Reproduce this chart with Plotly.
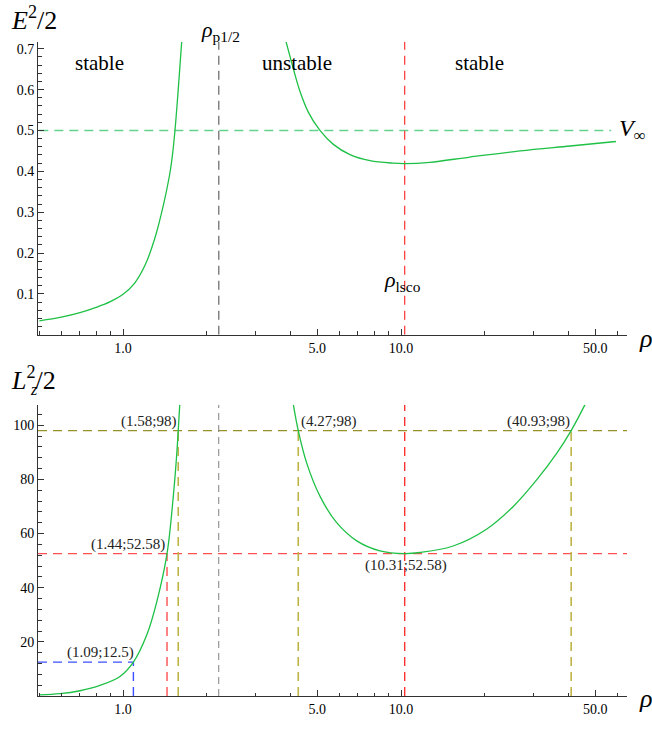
import math
import plotly.graph_objects as go

# ---------------- data ----------------
# top panel: E^2/2 vs rho (inner and outer branch)
rho_E_in = [0.5, 0.6, 0.7, 0.8, 0.9, 1.0, 1.1, 1.2, 1.3, 1.4, 1.468, 1.5, 1.538, 1.58, 1.626]
E_in = [0.034, 0.043, 0.054, 0.067, 0.081, 0.099, 0.126, 0.17, 0.235, 0.32, 0.388, 0.43, 0.50, 0.60, 0.717]
rho_E_out = [3.86, 4.10, 4.33, 4.64, 5.11, 5.71, 6.55, 7.74, 9.38, 10.31, 12.7, 17.7, 26.8, 40.6, 59.3]
E_out = [0.717, 0.651, 0.596, 0.545, 0.50, 0.466, 0.441, 0.426, 0.420, 0.419, 0.422, 0.435, 0.450, 0.462, 0.473]

# bottom panel: Lz^2/2 vs rho
rho_L_in = [0.5, 0.593, 0.700, 0.826, 0.975, 1.09, 1.217, 1.322, 1.44, 1.517, 1.56, 1.58, 1.60]
L_in = [0.4, 0.84, 1.94, 3.9, 7.2, 12.5, 22.5, 34.7, 52.58, 73.8, 89, 98, 107.6]
rho_L_out = [4.10, 4.27, 4.58, 5.11, 5.87, 6.93, 8.4, 10.31, 11.7, 15.4, 20.3, 25.4, 30.8, 36.3, 40.93, 45.9]
L_out = [107.6, 98, 86, 73.8, 64, 57.3, 53.6, 52.58, 53.0, 55.4, 61.6, 70.1, 79.9, 89.6, 98, 107.6]

# reference values
rho_p12 = 2.21
rho_lsco = 10.31
V_inf = 0.5
V_inf_rho = [0.5, 57.0]
L_min = 52.58
L_98 = 98
rho_98 = [1.58, 4.27, 40.93]
rho_in_min = 1.44
pt_blue = (1.09, 12.5)

x_ticks = [1.0, 5.0, 10.0, 50.0]
x_ticktext = ["1.0", "5.0", "10.0", "50.0"]
x_minor = [0.5, 0.6, 0.7, 0.8, 0.9, 2, 3, 4, 6, 7, 8, 9, 20, 30, 40, 60]
E_ticks = [0.1, 0.2, 0.3, 0.4, 0.5, 0.6, 0.7]
L_ticks = [20, 40, 60, 80, 100]

X_MIN, X_MAX = 0.4946, 65.0
E_MAX = 0.7165
L_MAX = 107.6

# ---------------- styles ----------------
GREEN = "rgb(30,192,70)"
GREEN_D = "rgb(100,210,140)"
GRAY = "rgb(130,130,130)"
RED = "rgb(255,50,50)"
RED_H = "rgb(255,80,80)"
OLIVE = "rgb(150,145,40)"
OLIVE_V = "rgb(190,180,70)"
BLUE = "rgb(60,80,255)"
DASH = "9px,6px"
SERIF = "Liberation Serif"
MATH = "Liberation Serif"

fig = go.Figure()


def line(xs, ys, color, width, dash, ax):
    fig.add_trace(go.Scatter(x=xs, y=ys, mode="lines", xaxis="x" if ax == 1 else "x2",
                             yaxis="y" if ax == 1 else "y2",
                             line=dict(color=color, width=width, dash=dash),
                             hoverinfo="skip", showlegend=False))


def curve(xs, ys, ax):
    fig.add_trace(go.Scatter(x=xs, y=ys, mode="lines", xaxis="x" if ax == 1 else "x2",
                             yaxis="y" if ax == 1 else "y2",
                             line=dict(color=GREEN, width=1.3, shape="spline", smoothing=1.0),
                             hoverinfo="skip", showlegend=False))


# ----- top panel -----
line(V_inf_rho, [V_inf, V_inf], GREEN_D, 1.6, DASH, 1)
line([rho_p12, rho_p12], [0, E_MAX], GRAY, 1.5, DASH, 1)
line([rho_lsco, rho_lsco], [0, E_MAX], RED, 1.2, DASH, 1)
curve(rho_E_in, E_in, 1)
curve(rho_E_out, E_out, 1)

# ----- bottom panel -----
line([X_MIN, X_MAX], [L_98, L_98], OLIVE, 1.2, DASH, 2)
line([X_MIN, X_MAX], [L_min, L_min], RED_H, 1.2, DASH, 2)
line([X_MIN, pt_blue[0]], [pt_blue[1], pt_blue[1]], BLUE, 1.4, DASH, 2)
line([pt_blue[0], pt_blue[0]], [0, pt_blue[1]], BLUE, 1.4, DASH, 2)
line([rho_in_min, rho_in_min], [0, L_min], RED, 1.2, DASH, 2)
for r in rho_98:
    line([r, r], [0, L_98], OLIVE_V, 1.6, DASH, 2)
line([rho_p12, rho_p12], [0, L_MAX], GRAY, 1.0, "7px,5px", 2)
line([rho_lsco, rho_lsco], [0, L_MAX], RED, 1.4, DASH, 2)
curve(rho_L_in, L_in, 2)
curve(rho_L_out, L_out, 2)

# ---------------- axes ----------------
xr = [math.log10(X_MIN), math.log10(X_MAX)]
common_x = dict(type="log", range=xr, showline=True, linecolor="#333", linewidth=1,
                ticks="inside", ticklen=6, tickcolor="#333", tickvals=x_ticks, ticktext=x_ticktext,
                tickfont=dict(family=SERIF, size=14, color="black"), showgrid=False, zeroline=False,
                minor=dict(tickvals=x_minor, ticks="inside", ticklen=3.5, tickcolor="#333", showgrid=False))
common_y = dict(showline=True, linecolor="#333", linewidth=1, ticks="inside", ticklen=6, tickcolor="#333",
                tickfont=dict(family=SERIF, size=14, color="black"), showgrid=False, zeroline=False)

fig.update_layout(
    width=652, height=729,
    margin=dict(l=38, r=25, t=42, b=27),
    paper_bgcolor="white", plot_bgcolor="white",
    showlegend=False,
    xaxis=dict(common_x, anchor="y"),
    yaxis=dict(common_y, domain=[0.5523, 1.0], range=[0, E_MAX], anchor="x",
               tickvals=E_ticks, ticktext=[f"{v:.1f}" for v in E_ticks],
               minor=dict(dtick=0.02, tick0=0, ticks="inside", ticklen=3.5, tickcolor="#333", showgrid=False)),
    xaxis2=dict(common_x, anchor="y2"),
    yaxis2=dict(common_y, domain=[0.0, 0.4455], range=[0, L_MAX], anchor="x2",
                tickvals=L_ticks, ticktext=[str(v) for v in L_ticks],
                minor=dict(dtick=4, tick0=0, ticks="inside", ticklen=3.5, tickcolor="#333", showgrid=False)),
)

ann = []
lg = math.log10
# region labels
for txt, xv in [("stable", 0.82), ("unstable", 4.23), ("stable", 19.2)]:
    ann.append(dict(x=lg(xv), y=0.665, xref="x", yref="y", text=txt, showarrow=False,
                    font=dict(family=SERIF, size=21, color="black")))
ann.append(dict(x=0.351, y=1.042, xref="x", yref="paper", text="<i>ρ</i><sub>p1/2</sub>", showarrow=False,
                font=dict(family=MATH, size=22, color="black")))
ann.append(dict(x=1.0036, y=0.132, xref="x", yref="y", text="<i>ρ</i><sub>lsco</sub>", showarrow=False,
                font=dict(family=MATH, size=22, color="black")))
ann.append(dict(x=1.777, y=V_inf, xref="x", yref="y", text="<i>V</i><sub>∞</sub>", showarrow=False,
                xanchor="left", yanchor="middle", font=dict(family=MATH, size=24, color="black")))

# point labels (bottom)
pf = dict(family=SERIF, size=15, color="#222")
ann.append(dict(x=lg(1.58), y=L_98, xref="x2", yref="y2", text="(1.58;98)", showarrow=False,
                xanchor="right", yanchor="bottom", yshift=-1, font=pf))
ann.append(dict(x=lg(rho_in_min), y=L_min, xref="x2", yref="y2", text="(1.44;52.58)", showarrow=False,
                xanchor="right", yanchor="bottom", yshift=-1, font=pf))
ann.append(dict(x=lg(pt_blue[0]), y=pt_blue[1], xref="x2", yref="y2", text="(1.09;12.5)", showarrow=False,
                xanchor="right", yanchor="bottom", xshift=3, yshift=-1, font=pf))
ann.append(dict(x=lg(4.27), y=L_98, xref="x2", yref="y2", text="(4.27;98)", showarrow=False,
                xanchor="left", yanchor="bottom", xshift=1, yshift=-1, font=pf))
ann.append(dict(x=lg(40.93), y=L_98, xref="x2", yref="y2", text="(40.93;98)", showarrow=False,
                xanchor="right", yanchor="bottom", xshift=1, yshift=-1, font=pf))
ann.append(dict(x=lg(rho_lsco), y=L_min, xref="x2", yref="y2", text="(10.31;52.58)", showarrow=False,
                xanchor="center", yanchor="top", xshift=1, yshift=-1, font=pf))

# axis titles
tf = dict(family=MATH, size=26, color="black")
ann.append(dict(x=-0.049, y=1.036, xref="paper", yref="paper", text="<i>E</i><sup>2</sup>/2",
                showarrow=False, xanchor="left", yanchor="middle", font=tf))
ann.append(dict(x=-0.049, y=0.486, xref="paper", yref="paper", text="<i>L</i><sup>2</sup>/2",
                showarrow=False, xanchor="left", yanchor="middle", font=tf))
ann.append(dict(x=-0.0075, y=0.468, xref="paper", yref="paper", text="<i>z</i>",
                showarrow=False, xanchor="center", yanchor="middle", font=dict(family=MATH, size=16, color="black")))
ann.append(dict(x=1.0306, y=0.546, xref="paper", yref="paper", text="<i>ρ</i>",
                showarrow=False, xanchor="center", yanchor="middle", font=tf))
ann.append(dict(x=1.0306, y=-0.004, xref="paper", yref="paper", text="<i>ρ</i>",
                showarrow=False, xanchor="center", yanchor="middle", font=tf))

fig.update_layout(annotations=ann)
fig.write_html("out.html")
